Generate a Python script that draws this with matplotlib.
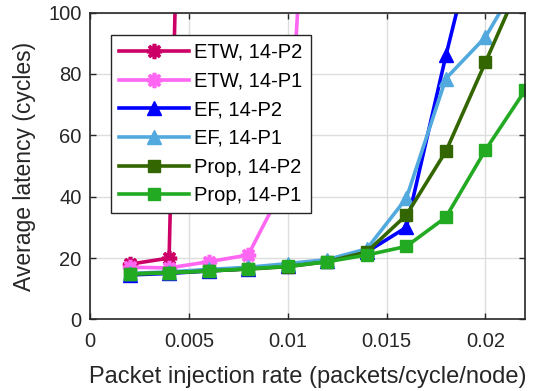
import matplotlib
matplotlib.use('Agg')
import matplotlib.pyplot as plt
import matplotlib.ticker as mtick

plt.rcParams['font.family'] = ['Liberation Sans', 'DejaVu Sans']

# injection rates (packets/cycle/node)
rate = [0.002, 0.004, 0.006, 0.008, 0.010, 0.012, 0.014, 0.016, 0.018, 0.020, 0.022]

# average latency (cycles)
etw_p2 = [18.0, 20.0, 556]
etw_p1 = [17.0, 16.8, 18.8, 21.0, 46.0, 263]
ef_p2 = [14.5, 15.0, 15.8, 16.5, 17.5, 19.0, 22.0, 30.0, 86.0, 138]
ef_p1 = [15.0, 15.5, 16.3, 17.0, 18.2, 19.5, 23.0, 39.5, 78.5, 92.0, 114]
prop_p2 = [14.8, 15.2, 15.8, 16.4, 17.2, 18.8, 22.0, 34.0, 54.8, 83.8, 113]
prop_p1 = [14.8, 15.2, 15.8, 16.5, 17.3, 18.8, 21.0, 23.8, 33.3, 55.2, 74.6]

series = [
    ('ETW, 14-P2', etw_p2, '#CC0066', (8, 2, 0)),
    ('ETW, 14-P1', etw_p1, '#FF66F2', (8, 2, 0)),
    ('EF, 14-P2', ef_p2, '#0000FF', '^'),
    ('EF, 14-P1', ef_p1, '#52A9DE', '^'),
    ('Prop, 14-P2', prop_p2, '#336600', 's'),
    ('Prop, 14-P1', prop_p1, '#22AA22', 's'),
]

fig = plt.figure(figsize=(5.39, 3.91), dpi=100)
ax = fig.add_axes([0.167, 0.183, 0.807, 0.785])

for label, ys, col, mk in series:
    xs = rate[:len(ys)]
    if mk == (8, 2, 0):
        ax.plot(xs, ys, color=col, lw=2.6, marker=mk, ms=11, mew=2.6, label=label)
    else:
        ax.plot(xs, ys, color=col, lw=2.6, marker=mk, ms=10 if mk == '^' else 9,
                mec=col, mfc=col, label=label)

ax.set_xlim(0, 0.022)
ax.set_ylim(0, 100)
ax.set_xticks([0, 0.005, 0.01, 0.015, 0.02])
ax.xaxis.set_major_formatter(mtick.FuncFormatter(lambda v, p: ('%g' % v)))
ax.set_yticks([0, 20, 40, 60, 80, 100])
ax.grid(True, color='#DDDDDD', lw=1)
ax.set_axisbelow(True)
ax.tick_params(direction='in', labelsize=14.5, length=4, width=1, top=True, right=True,
               colors='#262626', labelcolor='#262626')
ax.tick_params(axis='x', pad=9)
ax.tick_params(axis='y', pad=6)
for s in ax.spines.values():
    s.set_linewidth(1.2)
    s.set_color('#262626')

ax.set_xlabel('Packet injection rate (packets/cycle/node)', fontsize=17, color='#262626',
              labelpad=11)
ax.set_ylabel('Average latency (cycles)', fontsize=16.5, color='#262626', labelpad=9)

leg = ax.legend(loc='upper left', bbox_to_anchor=(0.048, 0.927), borderaxespad=0,
                fontsize=14.5, handlelength=3.5, handletextpad=0.25, labelspacing=0.48,
                fancybox=False, framealpha=1, edgecolor='#262626', borderpad=0.4)
leg.get_frame().set_linewidth(1.0)

fig.savefig('out.png', dpi=100)
